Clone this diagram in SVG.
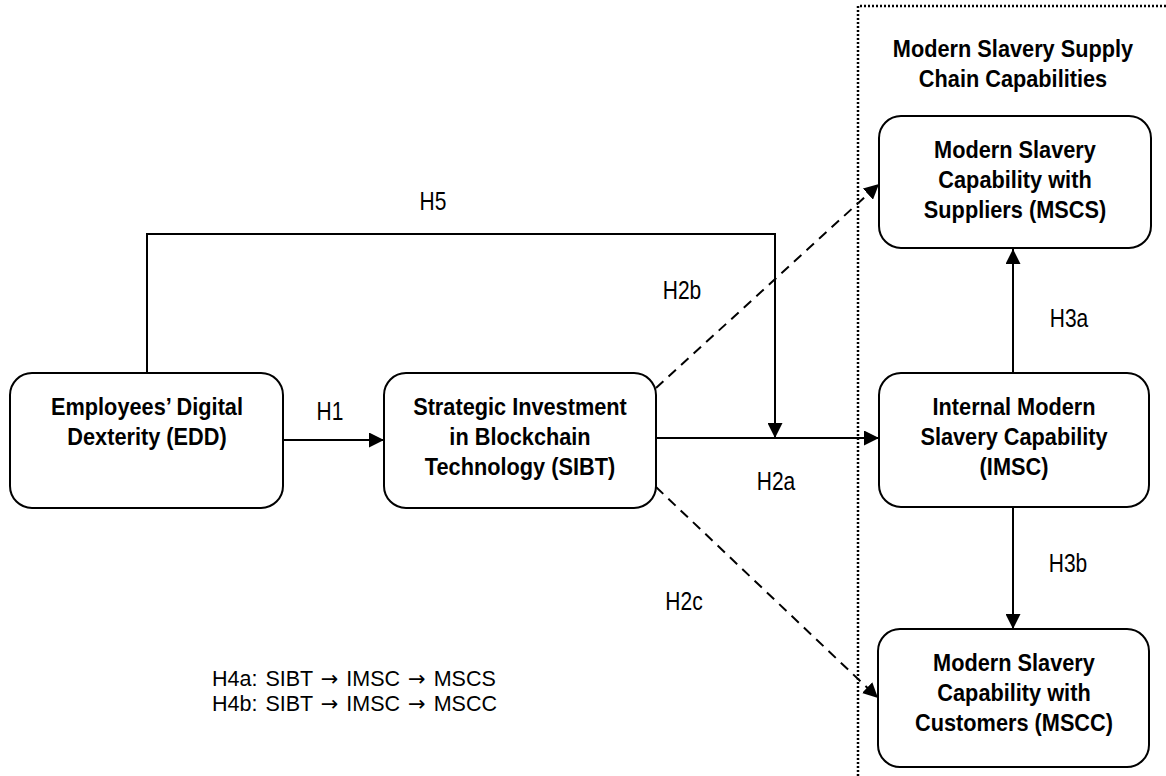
<svg xmlns="http://www.w3.org/2000/svg" width="1166" height="776" viewBox="0 0 1166 776">
<defs>
<marker id="arr" viewBox="0 0 10 10" refX="10" refY="5" markerWidth="15" markerHeight="15" markerUnits="userSpaceOnUse" orient="auto"><path d="M0,0 L10,5 L0,10 Z" fill="#000"/></marker>
<style>
.box{fill:#fff;stroke:#000;stroke-width:2}
.t{font-family:"Liberation Sans",Arial,sans-serif;font-size:23.5px;font-weight:bold;text-anchor:middle;fill:#000}
.l{font-family:"Liberation Sans",Arial,sans-serif;font-size:25px;fill:#000;text-anchor:middle}
.h{font-family:"Liberation Sans",Arial,sans-serif;font-size:21.5px;fill:#000}
.a{font-family:"DejaVu Sans",sans-serif;font-size:21px}
.c{fill:none;stroke:#000;stroke-width:2}
.d{stroke-dasharray:10,7}
</style>
</defs>
<rect width="1166" height="776" fill="#fff"/>
<path d="M858,776 L858,6 L1166,6" fill="none" stroke="#000" stroke-width="2.5" stroke-dasharray="2,2"/>
<g id="title"><text class="t" transform="translate(1013,57) scale(0.925,1)">Modern Slavery Supply</text><text class="t" transform="translate(1013,87) scale(0.925,1)">Chain Capabilities</text></g>
<g id="connectors">
<path class="c" d="M283,440 L384,440" marker-end="url(#arr)"/>
<path class="c" d="M655,438 L879,438" marker-end="url(#arr)"/>
<path class="c" d="M147,373 L147,234 L775,234 L775,438" marker-end="url(#arr)"/>
<path class="c d" d="M656,388 L879,184" marker-end="url(#arr)"/>
<path class="c d" d="M656,487 L878,698" marker-end="url(#arr)"/>
<path class="c" d="M1013,373 L1013,249" marker-end="url(#arr)"/>
<path class="c" d="M1013,507 L1013,629" marker-end="url(#arr)"/>
</g>
<g id="labels">
<text class="l" transform="translate(433,210) scale(0.84,1)">H5</text>
<text class="l" transform="translate(330,420) scale(0.84,1)">H1</text>
<text class="l" transform="translate(682,299) scale(0.84,1)">H2b</text>
<text class="l" transform="translate(776,490) scale(0.84,1)">H2a</text>
<text class="l" transform="translate(684,610) scale(0.84,1)">H2c</text>
<text class="l" transform="translate(1069,327) scale(0.84,1)">H3a</text>
<text class="l" transform="translate(1068,572) scale(0.84,1)">H3b</text>
<text class="h" x="212" y="686" word-spacing="2">H4a: SIBT <tspan class="a">→</tspan> IMSC <tspan class="a">→</tspan> MSCS</text>
<text class="h" x="212" y="711" word-spacing="2">H4b: SIBT <tspan class="a">→</tspan> IMSC <tspan class="a">→</tspan> MSCC</text>
</g>
<g id="EDD"><rect class="box" x="10" y="373" width="273" height="135" rx="22"/><text class="t" transform="translate(147,415) scale(0.925,1)">Employees’ Digital</text><text class="t" transform="translate(147,445) scale(0.925,1)">Dexterity (EDD)</text></g>
<g id="SIBT"><rect class="box" x="384" y="373" width="272" height="135" rx="22"/><text class="t" transform="translate(520,415) scale(0.925,1)">Strategic Investment</text><text class="t" transform="translate(520,445) scale(0.925,1)">in Blockchain</text><text class="t" transform="translate(520,475) scale(0.925,1)">Technology (SIBT)</text></g>
<g id="IMSC"><rect class="box" x="879" y="373" width="270" height="134" rx="22"/><text class="t" transform="translate(1014,415) scale(0.925,1)">Internal Modern</text><text class="t" transform="translate(1014,445) scale(0.925,1)">Slavery Capability</text><text class="t" transform="translate(1014,475) scale(0.925,1)">(IMSC)</text></g>
<g id="MSCS"><rect class="box" x="879" y="116" width="272" height="132" rx="22"/><text class="t" transform="translate(1015,158) scale(0.925,1)">Modern Slavery</text><text class="t" transform="translate(1015,188) scale(0.925,1)">Capability with</text><text class="t" transform="translate(1015,218) scale(0.925,1)">Suppliers (MSCS)</text></g>
<g id="MSCC"><rect class="box" x="878" y="629" width="271" height="138" rx="22"/><text class="t" transform="translate(1014,671) scale(0.925,1)">Modern Slavery</text><text class="t" transform="translate(1014,701) scale(0.925,1)">Capability with</text><text class="t" transform="translate(1014,731) scale(0.925,1)">Customers (MSCC)</text></g>
</svg>
